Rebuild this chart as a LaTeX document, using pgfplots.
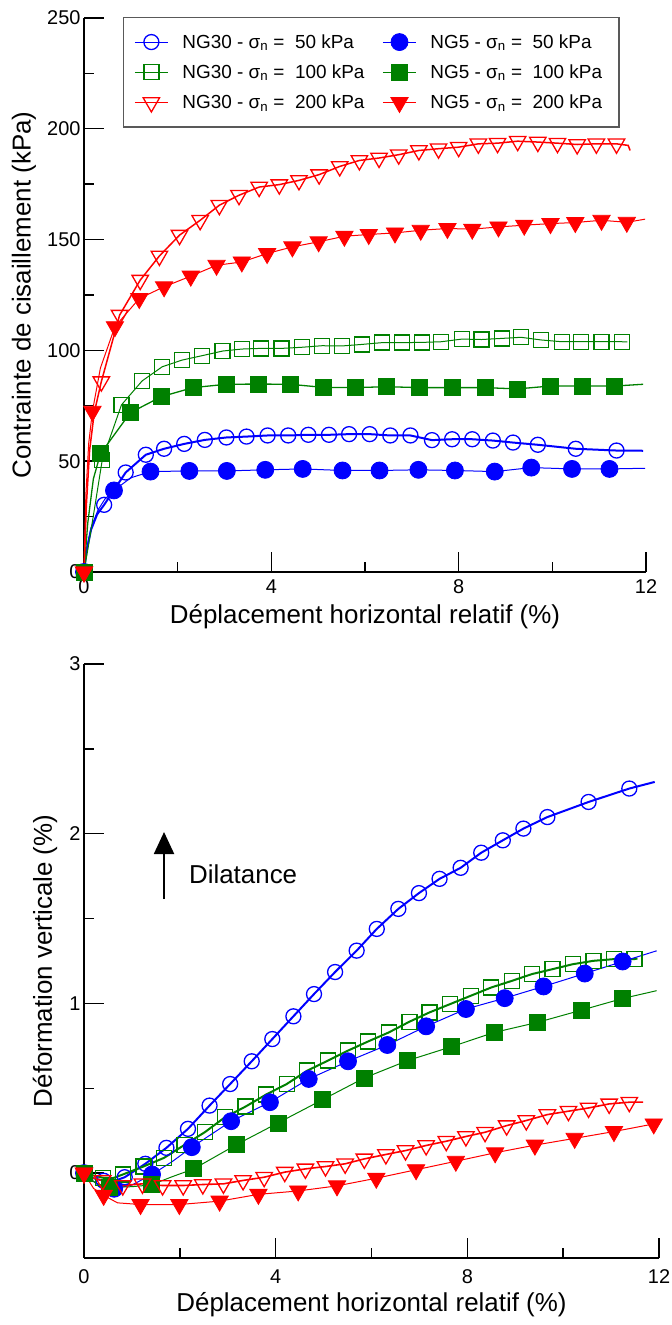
\documentclass[border=0pt]{standalone}
\usepackage{pgfplots}
\pgfplotsset{compat=1.18}
\usepackage{fontspec}
\setmainfont{Liberation Sans}
\usetikzlibrary{arrows.meta}
\definecolor{cblue}{RGB}{0,0,255}
\definecolor{cgreen}{RGB}{0,128,0}
\definecolor{cred}{RGB}{255,0,0}
\newcommand{\lf}{\fontsize{19}{22}\selectfont}
\pgfplotsset{
  myaxis/.style={
    scale only axis,
    axis x line=bottom, axis y line=left,
    axis line style={line width=1.6bp, -},
    tick align=inside,
    major tick length=20bp, minor tick length=10bp,
    tick style={line width=1.4bp, black},
    tick label style={font=\fontsize{20}{24}\selectfont},
    label style={font=\fontsize{26}{30}\selectfont},
    /pgf/number format/assume math mode=true,
    xmin=0, xmax=12, xtick={0,4,8,12}, minor xtick={2,6,10},
    clip=false,
    legend image code/.code={\draw[#1, line width=1bp, mark indices={2}] plot coordinates {(0bp,0bp) (16.5bp,0bp) (33bp,0bp)};},
  },
  s30a/.style={color=cblue, mark=o, mark size=7.5bp, mark options={solid, line width=1.3bp}},
  s5a/.style={color=cblue, mark=*, mark size=8.5bp, mark options={solid, line width=0.8bp, fill=cblue}},
  s30b/.style={color=cgreen, mark=square, mark size=7.5bp, mark options={solid, line width=1.3bp}},
  s5b/.style={color=cgreen, mark=square*, mark size=8bp, mark options={solid, line width=0.8bp, fill=cgreen}},
  s30c/.style={color=cred, mark=triangle, mark size=9.5bp, mark options={solid, line width=1.3bp, rotate=180}},
  s5c/.style={color=cred, mark=triangle*, mark size=10bp, mark options={solid, line width=0.8bp, fill=cred, rotate=180}},
}
\begin{document}
\begin{tikzpicture}[x=1bp,y=1bp]
\useasboundingbox (0,0) rectangle (671,1325);
% ---------------- TOP ----------------
\begin{axis}[myaxis,
  at={(84bp,753bp)}, anchor=south west,
  width=562bp, height=554bp,
  ymin=0, ymax=250, ytick={0,50,100,150,200,250}, minor ytick={25,75,125,175,225},
  xlabel={Déplacement horizontal relatif (\%)},
  ylabel={Contrainte de cisaillement (kPa)},
  xlabel style={at={(axis description cs:0.5,0)}, anchor=center, yshift=-45bp},
  ylabel style={at={(axis description cs:-0.107,0.5)}, anchor=center},
  xticklabel style={yshift=-4bp},
  legend columns=2,
  legend style={at={(0.069,1.002)}, anchor=north west, draw=black!65, line width=1.2bp,
    font=\lf, nodes={font=\lf, inner xsep=6bp, inner ysep=4bp}, inner xsep=11bp, inner ysep=13bp,
    cells={anchor=west}, row sep=7bp,
    /tikz/every odd column/.append style={column sep=8bp},
    /tikz/every even column/.append style={column sep=12bp}},
]
\addplot[s30a, line width=2bp, mark indices={1,5,6,7,8,9,10,11,12,13,14,15,16,17,18,19,20,21,22,23,24,25,26,27,28}] coordinates {
(0,0) (0.05,9) (0.15,19) (0.28,26) (0.43,30.3) (0.89,44.9) (1.32,52.9) (1.71,55.6) (2.14,57.8) (2.58,59.6)
(3.04,60.7) (3.47,61.1) (3.92,61.6) (4.36,61.6) (4.79,61.9) (5.23,61.9) (5.66,62.2) (6.10,62.2) (6.54,61.6) (6.97,61.6)
(7.43,59.5) (7.86,59.9) (8.29,59.9) (8.73,59.3) (9.16,58.4) (9.69,57.4) (10.50,55.6) (11.37,54.8) (11.94,54.7)};
\addlegendentry{\lf NG30 - σ\textsubscript{n} = \ 50 kPa}
\addplot[s5a, line width=1bp, mark indices={1,6,8,9,10,11,12,13,14,15,16,17,18,19,20}] coordinates {
(0,0) (0.05,10) (0.15,20) (0.3,28) (0.45,33) (0.64,36.8) (1.0,42.5) (1.42,45.3) (2.25,45.6) (3.05,45.6)
(3.87,46.1) (4.67,46.5) (5.52,45.8) (6.31,45.8) (7.14,46.1) (7.92,45.8) (8.77,45.3) (9.55,47.1) (10.42,46.5) (11.22,46.5) (11.98,46.8)};
\addlegendentry{\lf NG5 - σ\textsubscript{n} = \ 50 kPa}
\addplot[s30b, line width=1bp, mark indices={1,4,5,6,7,8,9,10,11,12,13,14,15,16,17,18,19,20,21,22,23,24,25,26,27,28,29,30}] coordinates {
(0,0) (0.12,15) (0.25,32) (0.39,50.6) (0.80,75.4) (1.24,86.2) (1.67,92.6) (2.09,95.6) (2.52,97.6) (2.96,99.7)
(3.37,100.6) (3.78,100.9) (4.22,100.9) (4.65,101.4) (5.08,102.1) (5.51,102.0) (5.94,102.7) (6.37,103.5) (6.79,103.5) (7.22,103.6)
(7.63,103.9) (8.07,105.1) (8.49,104.9) (8.92,105.4) (9.33,105.9) (9.76,104.7) (10.20,103.9) (10.61,103.9) (11.05,103.9) (11.48,103.9) (11.6,103.8)};
\addlegendentry{\lf NG30 - σ\textsubscript{n} = \ 100 kPa}
\addplot[s5b, line width=1.3bp, mark indices={1,4,5,6,7,8,9,10,11,12,13,14,15,16,17,18,19,20}] coordinates {
(0,0) (0.08,22) (0.2,42) (0.35,53.3) (0.99,71.9) (1.65,79.1) (2.33,83.2) (3.04,84.7) (3.72,84.8) (4.40,84.7)
(5.11,83.3) (5.80,83.2) (6.46,83.6) (7.16,83.2) (7.86,83.2) (8.56,83.2) (9.25,82.6) (9.95,83.9) (10.64,83.9) (11.32,83.9) (11.94,84.7)};
\addlegendentry{\lf NG5 - σ\textsubscript{n} = \ 100 kPa}
\addplot[s30c, line width=1.5bp, mark indices={1,5,6,7,8,9,10,11,12,13,14,15,16,17,18,19,20,21,22,23,24,25,26,27,28,29,30,31}] coordinates {
(0,0) (0.05,30) (0.12,55) (0.22,72) (0.37,85.9) (0.76,115.9) (1.20,131.7) (1.61,142.6) (2.04,152.0) (2.48,158.7)
(2.89,165.5) (3.31,170.0) (3.74,173.7) (4.17,174.8) (4.59,176.7) (5.02,179.3) (5.46,183.0) (5.88,185.7) (6.30,186.8) (6.72,188.3)
(7.15,190.2) (7.57,191.0) (8.00,191.7) (8.42,193.2) (8.83,193.5) (9.26,194.4) (9.69,194.0) (10.11,193.5) (10.53,192.9) (10.94,193.2)
(11.37,193.2) (11.62,192.5) (11.66,190.2)};
\addlegendentry{\lf NG30 - σ\textsubscript{n} = \ 200 kPa}
\addplot[s5c, line width=1bp, mark indices={1,4,6,7,8,9,10,11,12,13,14,15,16,17,18,19,20,21,22,23,24,25,26}] coordinates {
(0,0) (0.04,35) (0.1,58) (0.18,72.5) (0.35,92) (0.66,110.7) (1.18,123.4) (1.71,128.7) (2.28,133.5) (2.83,138.4)
(3.37,139.9) (3.91,143.7) (4.45,146.7) (5.01,149.0) (5.56,151.5) (6.08,152.3) (6.64,153.0) (7.19,154.2) (7.76,155.0) (8.29,154.7)
(8.85,155.7) (9.40,156.5) (9.96,157.2) (10.49,157.7) (11.05,158.7) (11.59,157.8) (11.98,159.2)};
\addlegendentry{\lf NG5 - σ\textsubscript{n} = \ 200 kPa}
\end{axis}
% ---------------- BOTTOM ----------------
\begin{axis}[myaxis,
  at={(84bp,67bp)}, anchor=south west,
  width=575bp, height=594bp,
  ymin=-0.5, ymax=3, ytick={0,1,2,3}, minor ytick={-0.5,0.5,1.5,2.5},
  xlabel={Déplacement horizontal relatif (\%)},
  ylabel={Déformation verticale (\%)},
  xlabel style={at={(axis description cs:0.5,0)}, anchor=center, yshift=-47bp},
  ylabel style={at={(axis description cs:-0.068,0.5)}, anchor=center},
  xticklabel style={yshift=-8bp},
]
\addplot[s30a, line width=2bp, mark indices={1,3,5,6,7,8,9,10,11,12,13,14,15,16,17,18,19,20,21,22,23,24,25,26,27}] coordinates {
(0,0) (0.2,-0.03) (0.41,-0.045) (0.6,-0.05) (0.85,-0.024) (1.28,0.055) (1.72,0.149) (2.17,0.261) (2.62,0.398) (3.05,0.525)
(3.50,0.659) (3.93,0.790) (4.37,0.924) (4.80,1.055) (5.24,1.185) (5.69,1.311) (6.11,1.439) (6.56,1.557) (6.99,1.650) (7.42,1.734)
(7.86,1.799) (8.29,1.888) (8.74,1.961) (9.17,2.030) (9.67,2.098) (10.53,2.187) (11.38,2.266) (11.91,2.305)};
\addplot[s30b, line width=2bp, mark indices={1,2,4,5,6,7,8,9,10,11,12,13,14,15,16,17,18,19,20,21,22,23,24,25,26,27,28,29}] coordinates {
(0,0) (0.39,-0.027) (0.6,-0.03) (0.81,-0.008) (1.24,0.039) (1.67,0.090) (2.10,0.167) (2.52,0.241) (2.94,0.329) (3.37,0.392)
(3.80,0.463) (4.23,0.525) (4.66,0.604) (5.09,0.663) (5.51,0.722) (5.93,0.776) (6.36,0.829) (6.79,0.892) (7.21,0.947) (7.64,0.996)
(8.07,1.045) (8.50,1.094) (8.93,1.133) (9.35,1.173) (9.78,1.202) (10.20,1.231) (10.63,1.251) (11.06,1.261) (11.49,1.261) (11.55,1.265)};
\addplot[s5a, line width=1bp, mark indices={1,4,6,8,9,10,11,12,13,14,15,16,17,18,19}] coordinates {
(0,0) (0.2,-0.05) (0.4,-0.08) (0.63,-0.092) (1.0,-0.07) (1.42,-0.008) (1.85,0.07) (2.25,0.153) (3.07,0.306) (3.88,0.418)
(4.69,0.555) (5.51,0.659) (6.33,0.755) (7.14,0.865) (7.97,0.967) (8.78,1.031) (9.59,1.100) (10.45,1.176) (11.24,1.247) (11.95,1.31)};
\addplot[s5b, line width=1bp, mark indices={1,3,5,7,8,9,10,11,12,13,14,15,16,17}] coordinates {
(0,0) (0.25,-0.06) (0.54,-0.082) (1.0,-0.08) (1.40,-0.069) (1.85,-0.02) (2.29,0.025) (3.19,0.169) (4.05,0.296) (4.98,0.433)
(5.85,0.561) (6.75,0.663) (7.67,0.745) (8.56,0.829) (9.46,0.888) (10.39,0.961) (11.24,1.029) (11.95,1.075)};
\addplot[s30c, line width=1.6bp, mark indices={1,3,4,5,6,7,8,9,10,11,12,13,14,15,16,17,18,19,20,21,22,23,24,25,26,27,28,29}] coordinates {
(0,0) (0.2,-0.03) (0.39,-0.043) (0.81,-0.073) (1.22,-0.063) (1.64,-0.073) (2.07,-0.073) (2.48,-0.067) (2.91,-0.063) (3.32,-0.043)
(3.76,-0.024) (4.19,0.006) (4.62,0.025) (5.04,0.039) (5.45,0.055) (5.85,0.084) (6.30,0.110) (6.71,0.133) (7.14,0.163) (7.56,0.188)
(7.97,0.216) (8.37,0.241) (8.82,0.280) (9.23,0.310) (9.67,0.345) (10.11,0.365) (10.53,0.384) (10.96,0.408) (11.38,0.418) (11.67,0.418)};
\addplot[s5c, line width=1bp, mark indices={1,3,5,6,7,8,9,10,11,12,13,14,15,16,17,18}] coordinates {
(0,0) (0.2,-0.09) (0.41,-0.131) (0.7,-0.175) (1.18,-0.185) (1.99,-0.185) (2.83,-0.165) (3.64,-0.125) (4.47,-0.105) (5.28,-0.075)
(6.10,-0.03) (6.93,0.02) (7.76,0.07) (8.58,0.12) (9.41,0.165) (10.24,0.205) (11.06,0.245) (11.89,0.29)};
\draw[line width=2bp, -{Triangle[width=20bp,length=22bp]}] (axis cs:1.67,1.615) -- (axis cs:1.67,2.01);
\node[anchor=west, inner sep=0pt, font=\fontsize{26}{30}\selectfont] at (axis cs:2.19,1.762) {Dilatance};
\end{axis}
\end{tikzpicture}
\end{document}
